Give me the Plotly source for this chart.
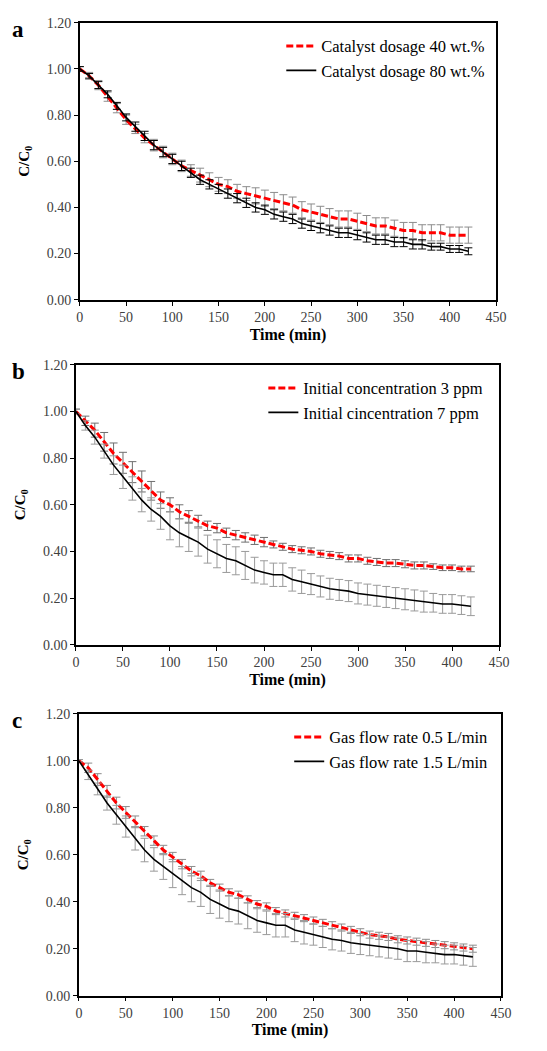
import plotly.graph_objects as go

time = list(range(0, 430, 10))

# Panel a
a_red_label = "Catalyst dosage 40 wt.%"
a_red = [1.00, 0.97, 0.93, 0.88, 0.83, 0.78, 0.74, 0.70, 0.67, 0.64, 0.61, 0.58, 0.56, 0.54, 0.52,
         0.50, 0.49, 0.47, 0.46, 0.45, 0.44, 0.43, 0.42, 0.41, 0.39, 0.38, 0.37, 0.36, 0.35, 0.35,
         0.34, 0.33, 0.32, 0.32, 0.31, 0.30, 0.30, 0.29, 0.29, 0.29, 0.28, 0.28, 0.28]
a_red_err = [0.01, 0.015, 0.02, 0.02, 0.02, 0.02, 0.02, 0.02, 0.025, 0.025, 0.025, 0.025, 0.025, 0.03, 0.03,
             0.03, 0.03, 0.03, 0.03, 0.035, 0.035, 0.035, 0.035, 0.035, 0.035, 0.035, 0.035, 0.035, 0.035, 0.035,
             0.035, 0.035, 0.035, 0.035, 0.035, 0.035, 0.035, 0.035, 0.035, 0.035, 0.035, 0.035, 0.035]
a_blk_label = "Catalyst dosage 80 wt.%"
a_blk = [1.00, 0.97, 0.93, 0.89, 0.84, 0.79, 0.75, 0.71, 0.67, 0.64, 0.61, 0.58, 0.55, 0.52, 0.50,
         0.48, 0.46, 0.44, 0.42, 0.40, 0.39, 0.37, 0.36, 0.35, 0.33, 0.32, 0.31, 0.30, 0.29, 0.29,
         0.28, 0.27, 0.26, 0.26, 0.25, 0.25, 0.24, 0.24, 0.23, 0.23, 0.22, 0.22, 0.21]
a_blk_err = [0.01, 0.01, 0.015, 0.015, 0.015, 0.015, 0.02, 0.02, 0.02, 0.02, 0.02, 0.02, 0.02, 0.02, 0.02,
             0.02, 0.02, 0.02, 0.02, 0.02, 0.02, 0.02, 0.02, 0.02, 0.02, 0.02, 0.02, 0.02, 0.02, 0.02,
             0.02, 0.02, 0.02, 0.02, 0.02, 0.02, 0.02, 0.02, 0.015, 0.015, 0.015, 0.015, 0.015]

# Panel b
b_red_label = "Initial concentration 3 ppm"
b_red = [1.00, 0.96, 0.92, 0.87, 0.82, 0.78, 0.74, 0.70, 0.66, 0.62, 0.60, 0.57, 0.55, 0.53, 0.51,
         0.50, 0.48, 0.47, 0.46, 0.45, 0.44, 0.43, 0.42, 0.41, 0.405, 0.40, 0.39, 0.385, 0.38, 0.37,
         0.37, 0.36, 0.355, 0.35, 0.35, 0.345, 0.34, 0.34, 0.335, 0.33, 0.33, 0.325, 0.325]
b_red_err = [0.01, 0.02, 0.03, 0.04, 0.045, 0.045, 0.045, 0.045, 0.04, 0.035, 0.03, 0.03, 0.025, 0.025, 0.02,
             0.02, 0.02, 0.02, 0.02, 0.02, 0.02, 0.015, 0.015, 0.015, 0.015, 0.015, 0.015, 0.015, 0.015, 0.015,
             0.015, 0.015, 0.015, 0.015, 0.015, 0.015, 0.015, 0.015, 0.012, 0.012, 0.012, 0.012, 0.012]
b_blk_label = "Initial cincentration 7 ppm"
b_blk = [1.00, 0.94, 0.89, 0.83, 0.77, 0.72, 0.67, 0.62, 0.58, 0.55, 0.51, 0.48, 0.46, 0.44, 0.41,
         0.39, 0.37, 0.36, 0.34, 0.32, 0.31, 0.30, 0.30, 0.28, 0.27, 0.26, 0.25, 0.24, 0.235, 0.23,
         0.22, 0.215, 0.21, 0.205, 0.20, 0.195, 0.19, 0.185, 0.18, 0.175, 0.175, 0.17, 0.165]
b_blk_err = [0.01, 0.02, 0.03, 0.03, 0.04, 0.05, 0.05, 0.05, 0.05, 0.055, 0.06, 0.06, 0.06, 0.06, 0.06,
             0.06, 0.06, 0.06, 0.06, 0.055, 0.05, 0.05, 0.05, 0.05, 0.05, 0.045, 0.045, 0.045, 0.045, 0.045,
             0.045, 0.045, 0.045, 0.045, 0.045, 0.045, 0.045, 0.045, 0.04, 0.04, 0.04, 0.04, 0.04]

# Panel c
c_red_label = "Gas flow rate 0.5 L/min"
c_red = [1.00, 0.97, 0.92, 0.87, 0.82, 0.78, 0.74, 0.70, 0.66, 0.62, 0.59, 0.56, 0.53, 0.51, 0.48,
         0.46, 0.44, 0.43, 0.41, 0.39, 0.38, 0.36, 0.35, 0.34, 0.33, 0.32, 0.31, 0.30, 0.29, 0.28,
         0.27, 0.26, 0.255, 0.25, 0.24, 0.235, 0.23, 0.225, 0.22, 0.215, 0.21, 0.205, 0.20]
c_red_err = [0.005, 0.02, 0.025, 0.025, 0.025, 0.025, 0.025, 0.02, 0.02, 0.02, 0.02, 0.02, 0.02, 0.02, 0.015,
             0.015, 0.015, 0.015, 0.015, 0.015, 0.015, 0.015, 0.015, 0.015, 0.015, 0.015, 0.015, 0.015, 0.015, 0.015,
             0.015, 0.015, 0.015, 0.015, 0.015, 0.015, 0.015, 0.015, 0.015, 0.015, 0.015, 0.015, 0.015]
c_blk_label = "Gas flow rate 1.5 L/min"
c_blk = [1.00, 0.94, 0.88, 0.82, 0.77, 0.72, 0.67, 0.62, 0.58, 0.55, 0.52, 0.49, 0.46, 0.44, 0.41,
         0.39, 0.37, 0.36, 0.34, 0.32, 0.31, 0.30, 0.30, 0.28, 0.27, 0.26, 0.25, 0.24, 0.235, 0.225,
         0.22, 0.215, 0.21, 0.205, 0.20, 0.19, 0.19, 0.185, 0.18, 0.175, 0.175, 0.17, 0.165]
c_blk_err = [0.005, 0.02, 0.025, 0.03, 0.04, 0.045, 0.05, 0.05, 0.05, 0.055, 0.06, 0.06, 0.06, 0.06, 0.06,
             0.06, 0.055, 0.055, 0.055, 0.05, 0.05, 0.05, 0.05, 0.05, 0.05, 0.045, 0.045, 0.045, 0.045, 0.045,
             0.045, 0.045, 0.045, 0.045, 0.045, 0.045, 0.045, 0.045, 0.04, 0.04, 0.04, 0.04, 0.04]

y_ticks = [0.0, 0.2, 0.4, 0.6, 0.8, 1.0, 1.2]
x_ticks = list(range(0, 451, 50))

W, H = 547, 1051
panels = [
    dict(letter="a", red=(a_red, a_red_err, a_red_label), blk=(a_blk, a_blk_err, a_blk_label),
         px=(78, 506), py=(16, 297), leg_right=500, red_err_col="#8c8c8c", blk_err_col="#000000"),
    dict(letter="b", red=(b_red, b_red_err, b_red_label), blk=(b_blk, b_blk_err, b_blk_label),
         px=(74, 509), py=(363, 647), leg_right=498, red_err_col="#6e6e6e", blk_err_col="#9a9a9a"),
    dict(letter="c", red=(c_red, c_red_err, c_red_label), blk=(c_blk, c_blk_err, c_blk_label),
         px=(77, 511), py=(717, 1003), leg_right=503, red_err_col="#8c8c8c", blk_err_col="#9a9a9a"),
]

FONT = "Liberation Serif, Times New Roman, serif"
fig = go.Figure()
layout = dict(width=W, height=H, margin=dict(l=0, r=0, t=0, b=0),
              paper_bgcolor="white", plot_bgcolor="white",
              font=dict(family=FONT, color="black"), annotations=[])

for i, p in enumerate(panels):
    n = "" if i == 0 else str(i + 1)
    xa, ya = "x" + n, "y" + n
    leg = "legend" + n
    for key, color, dash, width, ecol in [("red", "#ff0000", "7px,3px", 3, p["red_err_col"]),
                                           ("blk", "#000000", "solid", 1.6, p["blk_err_col"])]:
        vals, errs, label = p[key]
        fig.add_trace(go.Scatter(
            x=time, y=vals, mode="lines", name=label,
            line=dict(color=color, dash=dash, width=width),
            error_y=dict(type="data", array=errs, visible=True, color=ecol, thickness=1, width=4),
            xaxis=xa, yaxis=ya, legend=leg))
    x0, x1 = p["px"]
    y0, y1 = p["py"]
    axis_common = dict(showgrid=False, zeroline=False, showline=True, linecolor="black", linewidth=1.5,
                       mirror=True, ticks="outside", ticklen=4, tickcolor="black", tickwidth=1.2,
                       tickfont=dict(family=FONT, size=14, color="#404040"))
    layout["xaxis" + n] = dict(axis_common, domain=[x0 / W, x1 / W], range=[0, 450], tickvals=x_ticks,
                               anchor=ya,
                               title=dict(text="<b>Time (min)</b>", font=dict(family=FONT, size=16, color="black"),
                                          standoff=4))
    layout["yaxis" + n] = dict(axis_common, domain=[1 - y1 / H, 1 - y0 / H], range=[0, 1.2], tickvals=y_ticks,
                               tickformat=".2f", anchor=xa,
                               title=dict(text="<b>C/C<sub>0</sub></b>", font=dict(family=FONT, size=15, color="black"),
                                          standoff=14))
    layout[leg] = dict(x=p["leg_right"] / W, xanchor="right", y=1 - (y0 + 6) / H, yanchor="top",
                       bgcolor="rgba(0,0,0,0)", font=dict(family=FONT, size=16.5, color="black"),
                       tracegroupgap=0)
    layout["annotations"].append(dict(text="<b>%s</b>" % p["letter"], xref="paper", yref="paper",
                                      x=6 / W, y=1 - (y0 - 8) / H, xanchor="left", yanchor="top",
                                      showarrow=False, font=dict(family=FONT, size=23, color="black")))

fig.update_layout(**layout)
fig.write_html("out.html", config={"displayModeBar": False},
               post_script="document.body.style.margin='0';document.body.style.overflow='hidden';")
